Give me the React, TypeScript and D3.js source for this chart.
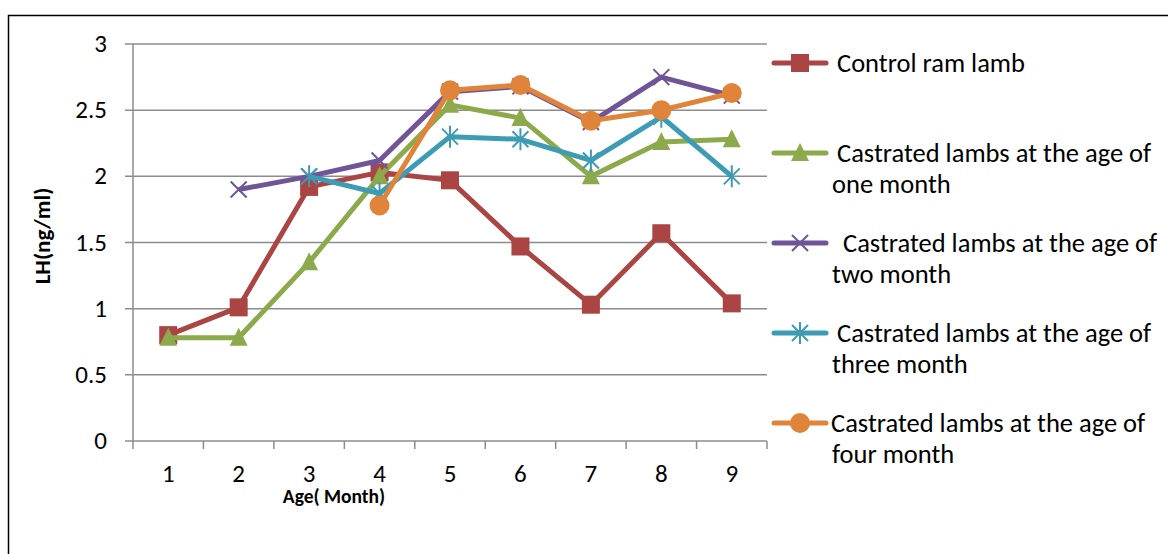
import React, { useEffect, useRef } from "react";
import * as d3 from "d3";

const months = [1, 2, 3, 4, 5, 6, 7, 8, 9];
const yTicks = [0, 0.5, 1, 1.5, 2, 2.5, 3];

const control = [0.8, 1.01, 1.92, 2.03, 1.97, 1.47, 1.03, 1.57, 1.04];
const oneMonth = [0.78, 0.78, 1.35, 2.0, 2.54, 2.44, 2.0, 2.26, 2.28];
const twoMonth = [null, 1.9, 2.0, 2.12, 2.64, 2.68, 2.41, 2.75, 2.61];
const threeMonth = [null, null, 2.0, 1.87, 2.3, 2.28, 2.12, 2.45, 2.0];
const fourMonth = [null, null, null, 1.78, 2.65, 2.69, 2.42, 2.5, 2.63];

const series = [
  { name: ["Control ram lamb"], values: control, color: "#AA4543", marker: "square", x0: 837 },
  { name: ["Castrated lambs at the age of", "one month"], values: oneMonth, color: "#8CAA4C", marker: "triangle", x0: 837 },
  { name: ["Castrated lambs at the age of", "two month"], values: twoMonth, color: "#6F5597", marker: "x", x0: 843 },
  { name: ["Castrated lambs at the age of", "three month"], values: threeMonth, color: "#3D9CB4", marker: "star", x0: 837 },
  { name: ["Castrated lambs at the age of", "four month"], values: fourMonth, color: "#E0843A", marker: "circle", x0: 831 },
];

const font = "Carlito, 'Open Sans', 'Noto Sans', sans-serif";

function drawMarker(g: any, type: string, x: number, y: number, color: string) {
  if (type === "square") {
    g.append("rect").attr("x", x - 9).attr("y", y - 9).attr("width", 18).attr("height", 18).attr("fill", color);
  } else if (type === "triangle") {
    g.append("path").attr("d", `M${x},${y - 10} L${x + 9},${y + 8} L${x - 9},${y + 8} Z`).attr("fill", color);
  } else if (type === "circle") {
    g.append("circle").attr("cx", x).attr("cy", y).attr("r", 10).attr("fill", color);
  } else if (type === "x") {
    g.append("path")
      .attr("d", `M${x - 8},${y - 8} L${x + 8},${y + 8} M${x - 8},${y + 8} L${x + 8},${y - 8}`)
      .attr("stroke", color).attr("stroke-width", 2);
  } else if (type === "star") {
    g.append("path")
      .attr("d", `M${x - 8},${y - 8} L${x + 8},${y + 8} M${x - 8},${y + 8} L${x + 8},${y - 8} M${x},${y - 11} L${x},${y + 11}`)
      .attr("stroke", color).attr("stroke-width", 2);
  }
}

export default function App() {
  const svgRef = useRef<SVGSVGElement>(null);

  useEffect(() => {
    const svg = d3.select(svgRef.current!);
    svg.selectAll("*").remove();

    const left = 133, right = 767, top = 44, bottom = 441;
    const x = d3.scaleBand<number>().domain(months).range([left, right]);
    const y = d3.scaleLinear().domain([0, 3]).range([bottom, top]);

    // outer frame
    svg.append("rect").attr("x", 8.5).attr("y", 15.5).attr("width", 1200).attr("height", 600)
      .attr("fill", "none").attr("stroke", "#000").attr("stroke-width", 1.5);

    // gridlines + y ticks
    const grid = svg.append("g");
    yTicks.forEach((t) => {
      grid.append("line").attr("x1", left - 8).attr("x2", right).attr("y1", y(t)).attr("y2", y(t))
        .attr("stroke", "#8c8c8c").attr("stroke-width", 1.5);
      grid.append("text").attr("x", 107).attr("y", y(t) + 8).attr("text-anchor", "end")
        .attr("font-family", font).attr("font-size", 25).text(String(t));
    });

    // y axis line
    svg.append("line").attr("x1", left).attr("x2", left).attr("y1", top).attr("y2", bottom)
      .attr("stroke", "#8c8c8c").attr("stroke-width", 1.5);

    // x ticks
    const xt = [...months.map((m) => x(m)!), right];
    xt.forEach((p) => {
      svg.append("line").attr("x1", p).attr("x2", p).attr("y1", bottom).attr("y2", bottom + 8)
        .attr("stroke", "#8c8c8c").attr("stroke-width", 1.5);
    });
    months.forEach((m) => {
      svg.append("text").attr("x", x(m)! + x.bandwidth() / 2).attr("y", 482).attr("text-anchor", "middle")
        .attr("font-family", font).attr("font-size", 25).text(String(m));
    });

    svg.append("text").attr("x", 334).attr("y", 503).attr("text-anchor", "middle")
      .attr("font-family", font).attr("font-size", 19.5).attr("font-weight", "bold").text("Age( Month)");
    svg.append("text").attr("transform", `translate(50, 236) rotate(-90)`).attr("text-anchor", "middle")
      .attr("font-family", font).attr("font-size", 23).attr("font-weight", "bold").text("LH(ng/ml)");

    // lines
    const cx = (i: number) => x(months[i])! + x.bandwidth() / 2;
    series.forEach((s) => {
      const line = d3.line<number | null>()
        .defined((v) => v !== null)
        .x((_, i) => cx(i))
        .y((v) => y(v as number));
      svg.append("path").attr("d", line(s.values)).attr("fill", "none").attr("stroke", s.color)
        .attr("stroke-width", 5).attr("stroke-linejoin", "round");
      const mg = svg.append("g");
      s.values.forEach((v, i) => {
        if (v !== null) drawMarker(mg, s.marker, cx(i), y(v), s.color);
      });
    });

    // legend
    const legendY = [63, 153, 243, 333, 423];
    series.forEach((s, i) => {
      const ly = legendY[i];
      const lg = svg.append("g");
      lg.append("line").attr("x1", 774).attr("x2", 826).attr("y1", ly).attr("y2", ly)
        .attr("stroke", s.color).attr("stroke-width", 5).attr("stroke-linecap", "round");
      drawMarker(lg, s.marker, 800, ly, s.color);
      s.name.forEach((t, j) => {
        lg.append("text").attr("x", j === 0 ? s.x0 : 832).attr("y", ly + 9 + j * 31)
          .attr("font-family", font).attr("font-size", 26.5).text(t);
      });
    });
  }, []);

  return (
    <svg ref={svgRef} width={1168} height={554}
      style={{ position: "absolute", left: 0, top: 0, background: "#fff" }} />
  );
}
